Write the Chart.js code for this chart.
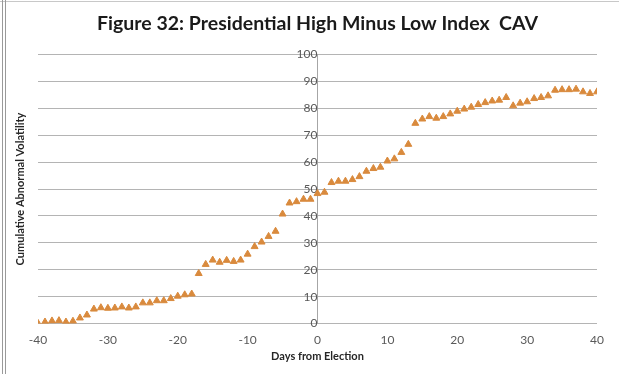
<!DOCTYPE html>
<html>
<head>
<meta charset="utf-8">
<script src="https://cdn.jsdelivr.net/npm/chart.js@4"></script>
<style>
  html, body { margin: 0; padding: 0; background: #fff; }
  #wrap { position: relative; width: 619px; height: 374px; }
  #chart_cav { position: absolute; left: 0; top: 0; }
  #frame_top { position: absolute; left: 0; top: 1px; width: 619px; height: 1px; background: #c8c8c8; }
  #frame_left { position: absolute; left: 2px; top: 0; width: 2px; height: 374px;
                border-left: 1px solid #9a9a9a; border-right: 1px solid #9a9a9a; }
</style>
</head>
<body>
<div id="wrap">
  <canvas id="chart_cav" width="619" height="374"></canvas>
  <div id="frame_top"></div>
  <div id="frame_left"></div>
</div>
<script>
const days = [-40, -39, -38, -37, -36, -35, -34, -33, -32, -31, -30, -29, -28, -27, -26, -25, -24, -23, -22, -21,
              -20, -19, -18, -17, -16, -15, -14, -13, -12, -11, -10, -9, -8, -7, -6, -5, -4, -3, -2, -1,
              0, 1, 2, 3, 4, 5, 6, 7, 8, 9, 10, 11, 12, 13, 14, 15, 16, 17, 18, 19,
              20, 21, 22, 23, 24, 25, 26, 27, 28, 29, 30, 31, 32, 33, 34, 35, 36, 37, 38, 39, 40];
const cav = [0.1, 0.6, 1.0, 1.1, 0.6, 0.9, 2.1, 3.2, 5.4, 5.9, 5.7, 5.8, 6.2, 5.8, 6.2, 7.7, 7.7, 8.5, 8.5, 9.3,
             10.2, 10.7, 11.0, 18.6, 22.0, 23.6, 22.8, 23.5, 23.1, 23.6, 25.8, 28.6, 30.3, 32.4, 34.3, 40.7, 44.8, 45.3, 46.2, 46.2,
             48.3, 48.8, 52.4, 52.9, 52.9, 53.5, 54.6, 56.6, 57.6, 58.1, 60.4, 61.2, 63.6, 66.6, 74.4, 76.0, 76.9, 76.3, 76.9, 77.9,
             78.9, 79.7, 80.4, 81.4, 82.1, 82.7, 83.0, 84.0, 80.9, 81.9, 82.4, 83.6, 84.0, 84.6, 86.7, 86.9, 86.9, 87.1, 86.1, 85.5, 86.1];
const xTicks = [-40, -30, -20, -10, 0, 10, 20, 30, 40];
const yTicks = [0, 10, 20, 30, 40, 50, 60, 70, 80, 90, 100];

const markerColor = '#D98A3D';

// y title drawn by hand since the y axis sits in the middle of the plot
const yTitlePlugin = {
    id: 'yTitle',
    afterDraw: chart => {
        const ctx = chart.ctx;
        const area = chart.chartArea;
        ctx.save();
        ctx.translate(20, (area.top + area.bottom) / 2);
        ctx.rotate(-Math.PI / 2);
        ctx.font = 'bold 11px Lato';
        ctx.fillStyle = '#262626';
        ctx.textAlign = 'center';
        ctx.textBaseline = 'middle';
        ctx.fillText('Cumulative Abnormal Volatility', 0, 0);
        ctx.restore();
    }
};

const data = {
    datasets: [{
        label: 'CAV',
        data: days.map((d, i) => ({ x: d, y: cav[i] })),
        backgroundColor: markerColor,
        borderColor: markerColor,
        pointStyle: 'triangle',
        pointRadius: 4,
        pointBorderWidth: 1,
    }]
};

const config_cav = {
    type: 'scatter',
    data,
    plugins: [yTitlePlugin],
    options: {
        responsive: false,
        animation: false,
        layout: {
            padding: { left: 38, right: 22, top: 4, bottom: 12 }
        },
        plugins: {
            legend: { display: false },
            tooltip: { enabled: false },
            title: {
                display: true,
                text: 'Figure 32: Presidential High Minus Low Index  CAV',
                color: '#1a1a1a',
                font: { family: 'Lato', size: 19.5, weight: 'bold' },
                padding: { top: 8, bottom: 19 }
            }
        },
        scales: {
            x: {
                type: 'linear',
                position: 'bottom',
                min: -40,
                max: 40,
                afterBuildTicks: axis => { axis.ticks = xTicks.map(v => ({ value: v })); },
                grid: { display: false },
                border: { display: false },
                ticks: { color: '#595959', font: { family: 'Lato', size: 12 }, padding: 1, maxRotation: 0 },
                title: {
                    display: true,
                    text: 'Days from Election',
                    color: '#262626',
                    font: { family: 'Lato', size: 11, weight: 'bold', lineHeight: 1 },
                    padding: { top: 3, bottom: 0 }
                }
            },
            y: {
                position: { x: 0 },
                min: 0,
                max: 100,
                afterBuildTicks: axis => { axis.ticks = yTicks.map(v => ({ value: v })); },
                grid: { color: '#b4b4b4', drawTicks: false },
                border: { display: true, color: '#a6a6a6' },
                ticks: { color: '#595959', font: { family: 'Lato', size: 12 }, padding: 4 }
            }
        }
    }
};

const myChart_cav = new Chart(document.getElementById('chart_cav'), config_cav);
</script>
</body>
</html>
